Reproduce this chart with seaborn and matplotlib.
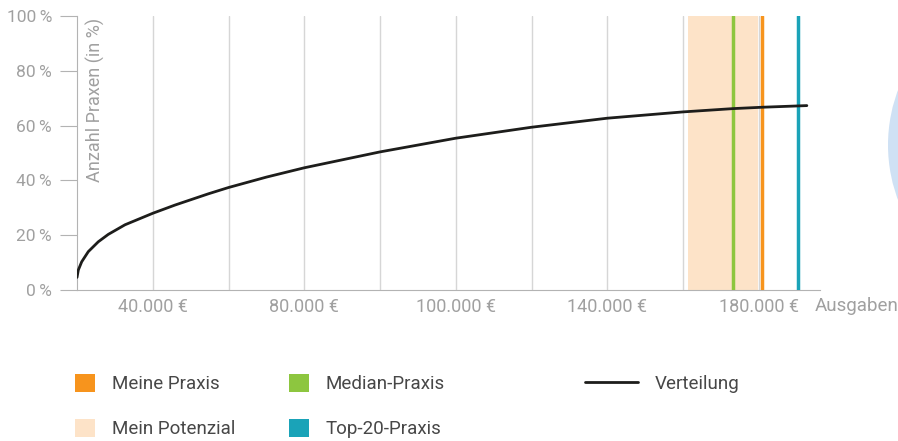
import matplotlib
matplotlib.use("Agg")
import matplotlib.pyplot as plt
from matplotlib.patches import Patch, Ellipse
from matplotlib.lines import Line2D
import seaborn as sns
import pandas as pd

# ---------------- data ----------------
ausgaben = [20000, 20350, 21240, 22980, 25620, 28260, 32670, 40000, 45870, 54670,
            60000, 70000, 80000, 100000, 120000, 140000, 160000, 180000, 193200, 200900, 212700]
anteil = [4.6, 7.3, 10.3, 14.0, 17.6, 20.3, 23.8, 28.0, 31.0, 35.1,
          37.4, 41.2, 44.6, 50.4, 55.4, 59.4, 62.7, 65.0, 66.2, 66.7, 67.3]

meine_praxis = 200900
median_praxis = 193200
top20_praxis = 210400
potenzial = [181300, 199800]

grid_pos = [40000, 60000, 80000, 100000, 120000, 140000, 160000, 180000, 200000]
tick_pos = [40000, 80000, 120000, 160000, 200000]
tick_labels = ["40.000 €", "80.000 €", "100.000 €", "140.000 €", "180.000 €"]
y_ticks = [0, 20, 40, 60, 80, 100]

C_ORANGE = "#f7941d"
C_GREEN = "#8dc63f"
C_TEAL = "#1aa3b8"
C_POT = "#fde3c8"
C_LINE = "#1d1d1b"
C_AXIS = "#b3b3b3"
C_GRID = "#d6d6d6"
C_TXT = "#a0a0a0"
C_LEG = "#474747"

sns.set_theme(style="white")
plt.rcParams["font.family"] = ["Roboto", "DejaVu Sans"]

W, H = 898, 441
fig = plt.figure(figsize=(W / 100, H / 100), dpi=100)
fig.patch.set_facecolor("white")

# decorative circle on the right edge
circ = Ellipse((1044 / W, 1 - 145 / H), 312 / W, 312 / H,
               transform=fig.transFigure, facecolor="#cfe1f4", edgecolor="none", zorder=0)
fig.patches.append(circ)

ax = fig.add_axes([77 / W, 1 - 290 / H, 743 / W, 274 / H])
ax.set_facecolor("none")

ax.axvspan(potenzial[0], potenzial[1], color=C_POT, lw=0, zorder=1)

df = pd.DataFrame({"Ausgaben": ausgaben, "Anteil": anteil})
sns.lineplot(data=df, x="Ausgaben", y="Anteil", ax=ax, color=C_LINE, lw=2.0, zorder=4)

ax.axvline(median_praxis, color=C_GREEN, lw=2.5, zorder=3)
ax.axvline(meine_praxis, color=C_ORANGE, lw=2.5, zorder=3)
ax.axvline(top20_praxis, color=C_TEAL, lw=2.5, zorder=3)

ax.set_xlim(20000, 216170)
ax.set_ylim(0, 100)

# gridlines
for g in grid_pos:
    ax.axvline(g, color=C_GRID, lw=1.0, zorder=0.5)

ax.set_xticks(tick_pos)
ax.set_xticklabels(tick_labels)
ax.set_xticks([20000], minor=True)
ax.tick_params(axis="x", which="major", length=0, pad=6, labelsize=13, labelcolor=C_TXT)
ax.tick_params(axis="x", which="minor", length=15, width=0.8, color=C_AXIS, direction="out")

ax.set_yticks(y_ticks)
ax.set_yticklabels([f"{v}\u2009%" for v in y_ticks])
ax.tick_params(axis="y", length=12.5, width=0.8, color=C_AXIS, direction="out",
               pad=5.5, labelsize=12.5, labelcolor=C_TXT, left=True)

for s in ["top", "right"]:
    ax.spines[s].set_visible(False)
for s in ["left", "bottom"]:
    ax.spines[s].set_color(C_AXIS)
    ax.spines[s].set_linewidth(0.8)

ax.set_xlabel("")
ax.set_ylabel("")
ax.text(0.025, 0.993, "Anzahl Praxen (in %)", transform=ax.transAxes, rotation=90,
        ha="center", va="top", fontsize=13, color=C_TXT)
fig.text(815 / W, 1 - 306 / H, "Ausgaben", ha="left", va="center", fontsize=13.5, color=C_TXT)

# legends
fs = 13.5
common = dict(frameon=False, borderpad=0, borderaxespad=0, fontsize=fs,
              labelcolor=C_LEG, handletextpad=0.9, labelspacing=1.39, loc="upper left")
hh = 1.07
leg1 = fig.legend(handles=[Patch(facecolor=C_ORANGE, edgecolor="none", label="Meine Praxis"),
                           Patch(facecolor=C_POT, edgecolor="none", label="Mein Potenzial")],
                  bbox_to_anchor=(75 / W, 1 - 374 / H), handlelength=hh, handleheight=hh, **common)
leg2 = fig.legend(handles=[Patch(facecolor=C_GREEN, edgecolor="none", label="Median-Praxis"),
                           Patch(facecolor=C_TEAL, edgecolor="none", label="Top-20-Praxis")],
                  bbox_to_anchor=(289 / W, 1 - 374 / H), handlelength=hh, handleheight=hh, **common)
leg3 = fig.legend(handles=[Line2D([], [], color=C_LINE, lw=2.0, label="Verteilung")],
                  bbox_to_anchor=(585 / W, 1 - 374 / H), handlelength=2.8, handleheight=hh, **common)

fig.savefig("out.png", dpi=100, facecolor="white")
